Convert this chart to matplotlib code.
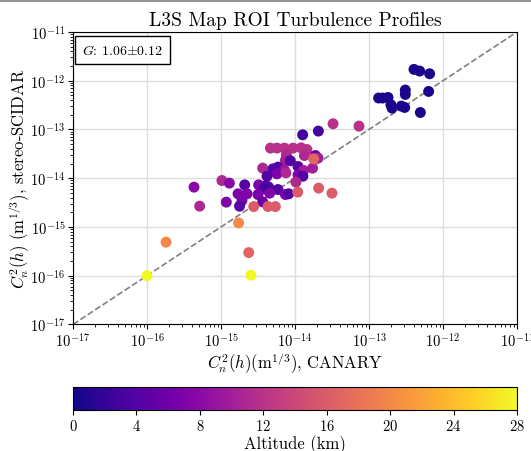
"""
Scatter of CANARY vs stereo-SCIDAR Cn2 values, coloured by altitude.
"""
import numpy as np
import matplotlib
matplotlib.use("Agg")
import matplotlib.pyplot as plt
from matplotlib.lines import Line2D

plt.rcParams["font.family"] = "serif"
plt.rcParams["font.serif"] = ["cmr10", "DejaVu Serif"]
plt.rcParams["mathtext.fontset"] = "cm"
plt.rcParams["axes.formatter.use_mathtext"] = True

# ── Data ──────────────────────────────────────────────────────────────────────

canary = [
    4.06e-13, 4.84e-13, 6.61e-13, 3.10e-13, 3.10e-13, 6.41e-13, 1.35e-13,
    1.53e-13, 1.81e-13, 1.98e-13, 2.05e-13, 2.74e-13, 3.04e-13, 4.95e-13,
    3.27e-14, 7.33e-14, 1.27e-14, 2.07e-14, 4.66e-15, 5.71e-15, 7.19e-15,
    9.40e-15, 1.21e-14, 1.45e-14, 7.65e-15, 1.34e-14, 1.89e-14, 2.05e-14,
    7.41e-15, 8.66e-15, 3.66e-15, 5.05e-15, 5.89e-15, 7.19e-15, 1.10e-14,
    1.73e-14, 1.31e-14, 5.71e-15, 7.55e-15, 4.19e-15, 1.10e-14, 1.28e-14,
    1.03e-14, 1.03e-15, 1.30e-15, 4.32e-16, 2.09e-15, 3.23e-15, 4.06e-15,
    4.41e-15, 3.86e-15, 5.89e-15, 1.70e-15, 2.25e-15, 3.16e-15, 4.55e-15,
    7.41e-15, 8.22e-15, 1.92e-15, 1.18e-15, 3.66e-15, 5.15e-16, 1.78e-15,
    1.09e-14, 2.09e-14, 3.16e-14, 2.77e-15, 4.32e-15, 5.43e-15, 1.79e-14,
    1.73e-15, 1.81e-16, 2.37e-15, 2.54e-15, 1.00e-16,
]

scidar = [
    1.71e-12, 1.58e-12, 1.39e-12, 6.44e-13, 5.24e-13, 6.03e-13, 4.42e-13,
    4.42e-13, 4.54e-13, 3.21e-13, 2.75e-13, 3.02e-13, 2.83e-13, 2.23e-13,
    1.31e-13, 1.17e-13, 7.78e-14, 9.27e-14, 4.15e-14, 4.15e-14, 4.15e-14,
    4.15e-14, 4.21e-14, 3.88e-14, 3.02e-14, 2.92e-14, 2.92e-14, 2.59e-14,
    2.31e-14, 2.28e-14, 1.61e-14, 1.56e-14, 1.69e-14, 1.47e-14, 1.74e-14,
    1.61e-14, 1.44e-14, 1.23e-14, 1.29e-14, 1.10e-14, 1.17e-14, 1.10e-14,
    8.32e-15, 8.97e-15, 7.93e-15, 6.56e-15, 7.31e-15, 7.31e-15, 7.08e-15,
    6.56e-15, 6.05e-15, 5.86e-15, 4.79e-15, 4.79e-15, 4.63e-15, 4.94e-15,
    4.63e-15, 4.79e-15, 3.48e-15, 3.23e-15, 3.27e-15, 2.67e-15, 2.67e-15,
    5.19e-15, 6.27e-15, 4.94e-15, 2.62e-15, 2.62e-15, 2.62e-15, 2.50e-14,
    1.21e-15, 4.88e-16, 2.98e-16, 1.02e-16, 1.00e-16,
]

altitude = [
    0.5, 0.5, 0.5, 0.5, 0.5, 0.5, 0.5,
    0.5, 0.5, 0.5, 0.5, 0.5, 0.5, 0.5,
    12, 12, 3, 3, 12, 12, 12,
    12, 12, 12, 11, 11, 6, 10,
    10, 4, 11, 4, 4, 9, 4,
    10, 10, 7, 11, 4, 7, 4,
    11, 11, 8, 8, 4, 7, 4,
    4, 3, 4, 7, 7, 7, 7,
    7, 4, 7, 7, 6, 11, 4,
    16, 16, 16, 16, 16, 16, 17,
    20, 20, 17, 28, 28,
]

ALT_MIN, ALT_MAX = 0, 28
cbar_ticks = [0, 4, 8, 12, 16, 20, 24, 28]

# ── Plot ──────────────────────────────────────────────────────────────────────

fig = plt.figure(figsize=(5.31, 4.52), dpi=100)
ax = fig.add_axes([0.1375, 0.280, 0.836, 0.647])
cax = fig.add_axes([0.1375, 0.0907, 0.836, 0.051])

# thin frame line along the top edge, as in the reference
fig.add_artist(Line2D([0, 1], [0.996, 0.996], color="gray", lw=1.2,
                      transform=fig.transFigure))

ax.plot([1e-17, 1e-11], [1e-17, 1e-11], ls="--", color="gray", lw=1.2,
        zorder=1)
sc = ax.scatter(canary, scidar, c=altitude, cmap="plasma",
                vmin=ALT_MIN, vmax=ALT_MAX, s=62, edgecolors="none", zorder=2)

ax.set_xscale("log")
ax.set_yscale("log")
ax.set_xlim(1e-17, 1e-11)
ax.set_ylim(1e-17, 1e-11)
ax.grid(True, which="major", color="#dddddd", lw=1.0)
ax.set_axisbelow(True)
ax.tick_params(labelsize=10.5, pad=2)

ax.set_title("L3S Map ROI Turbulence Profiles", fontsize=14, pad=5)
ax.set_xlabel(r"$C_n^2(h)$(m$^{1/3}$), CANARY", fontsize=12, labelpad=0.5)
ax.set_ylabel(r"$C_n^2(h)$ (m$^{1/3}$), stereo-SCIDAR", fontsize=12,
              labelpad=-1.5)

ax.text(0.02, 0.962, r"$G$: 1.06$\pm$0.12", transform=ax.transAxes,
        fontsize=10, va="top", ha="left",
        bbox=dict(boxstyle="square,pad=0.5", fc="white", ec="black", lw=1))

cb = fig.colorbar(sc, cax=cax, orientation="horizontal", ticks=cbar_ticks)
cb.set_label("Altitude (km)", fontsize=12, labelpad=1)
cb.ax.tick_params(labelsize=10.5, pad=2)

fig.savefig("out.png", dpi=100)
